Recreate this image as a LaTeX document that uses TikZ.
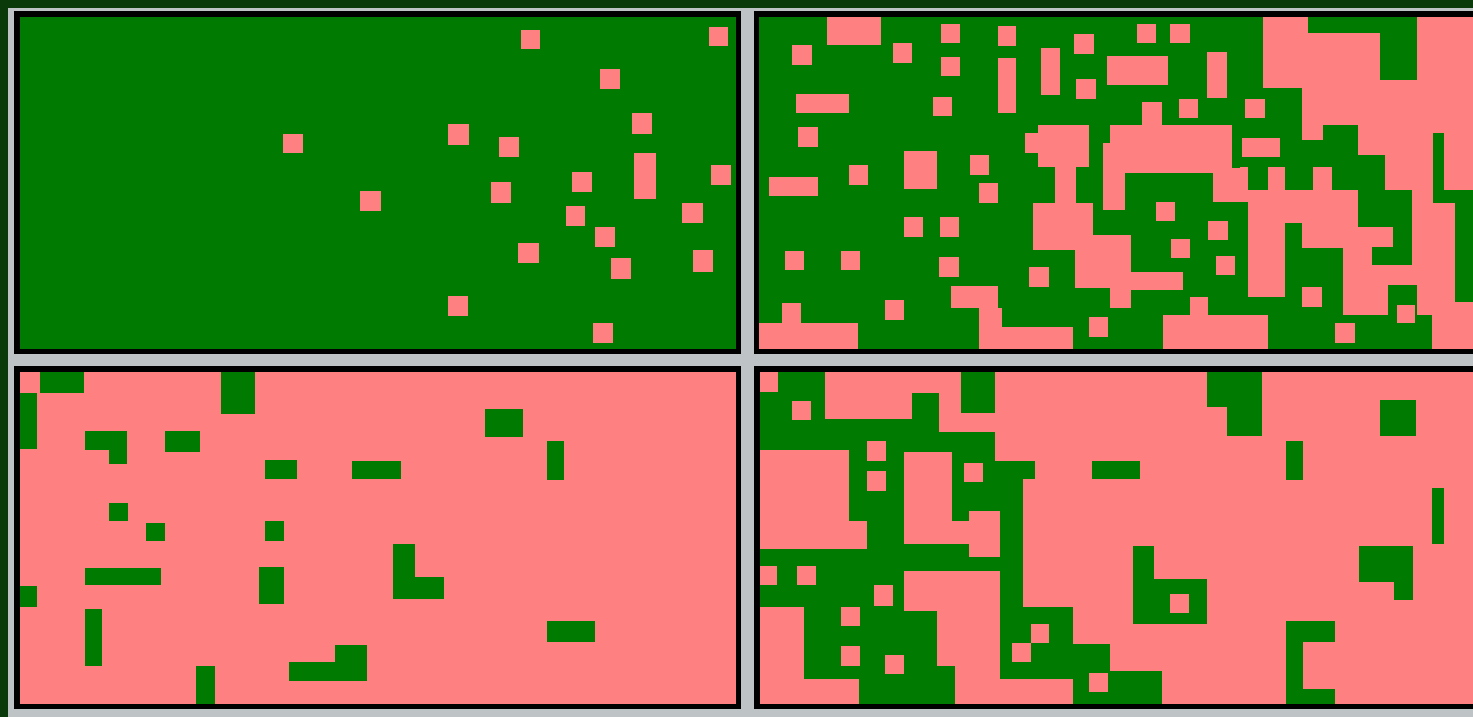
\documentclass[tikz,border=0pt]{standalone}
\definecolor{gc}{RGB}{0,122,0}
\definecolor{pc}{RGB}{255,128,128}
\definecolor{bgc}{RGB}{190,196,198}
\definecolor{dgc}{RGB}{10,58,10}
\newcommand\pkr[4]{\fill[pc] (#1,#2) rectangle (#3,#4);}
\newcommand\grr[4]{\fill[gc] (#1,#2) rectangle (#3,#4);}
\newcommand\blk[4]{\fill[black] (#1,#2) rectangle (#3,#4);}
\begin{document}
\begin{tikzpicture}[x=1pt,y=-1pt]
\useasboundingbox (0,0) rectangle (1473,717);
\clip (0,0) rectangle (1473,717);
% background
\fill[dgc] (0,0) rectangle (1473,717);
\fill[bgc] (8,8) rectangle (1473,717);
% panel frames
\blk{14}{11}{741}{354}
\blk{754}{11}{1480}{354}
\blk{14}{366}{741}{709}
\blk{754}{366}{1480}{709}
% ===== top-left panel =====
\grr{20}{17}{736}{349}
\pkr{521}{30}{540}{49}
\pkr{709}{27}{728}{46}
\pkr{600}{69}{620}{89}
\pkr{632}{113}{652}{134}
\pkr{283}{134}{303}{153}
\pkr{448}{124}{469}{145}
\pkr{499}{137}{519}{157}
\pkr{634}{153}{656}{199}
\pkr{711}{165}{731}{185}
\pkr{572}{172}{592}{192}
\pkr{491}{182}{511}{203}
\pkr{360}{191}{381}{211}
\pkr{682}{203}{703}{223}
\pkr{566}{206}{585}{226}
\pkr{595}{227}{615}{247}
\pkr{518}{243}{539}{263}
\pkr{693}{250}{713}{272}
\pkr{611}{258}{631}{279}
\pkr{448}{296}{468}{316}
\pkr{593}{323}{613}{343}
% ===== top-right panel =====
\grr{759}{17}{1480}{349}
\pkr{827}{17}{881}{45}
\pkr{792}{45}{812}{65}
\pkr{893}{43}{912}{63}
\pkr{941}{24}{960}{43}
\pkr{941}{57}{960}{76}
\pkr{998}{26}{1016}{46}
\pkr{998}{58}{1016}{113}
\pkr{796}{94}{849}{113}
\pkr{933}{97}{952}{116}
\pkr{798}{127}{818}{147}
\pkr{904}{151}{937}{189}
\pkr{849}{165}{868}{185}
\pkr{970}{155}{989}{175}
\pkr{979}{183}{998}{203}
\pkr{769}{177}{818}{196}
\pkr{904}{217}{923}{237}
\pkr{940}{217}{959}{237}
\pkr{785}{251}{804}{270}
\pkr{841}{251}{860}{270}
\pkr{939}{257}{959}{277}
\pkr{885}{300}{904}{320}
\pkr{759}{323}{858}{349}
\pkr{782}{303}{801}{323}
\pkr{951}{286}{998}{308}
\pkr{979}{308}{1002}{349}
\pkr{1000}{327}{1073}{349}
\pkr{1074}{34}{1094}{54}
\pkr{1041}{48}{1060}{95}
\pkr{1076}{79}{1096}{99}
\pkr{1137}{24}{1156}{43}
\pkr{1170}{24}{1190}{43}
\pkr{1107}{56}{1168}{85}
\pkr{1207}{52}{1227}{98}
\pkr{1179}{99}{1198}{118}
% blob A
\pkr{1038}{125}{1089}{167}
\pkr{1025}{133}{1038}{153}
\pkr{1055}{167}{1076}{203}
\pkr{1033}{203}{1093}{250}
\pkr{1075}{235}{1131}{288}
\pkr{1131}{272}{1183}{290}
\pkr{1110}{288}{1131}{308}
% blob B
\pkr{1110}{125}{1232}{173}
\pkr{1103}{143}{1125}{210}
\pkr{1142}{102}{1162}{125}
\pkr{1213}{168}{1245}{202}
\pkr{1156}{202}{1175}{221}
\pkr{1208}{221}{1228}{240}
\pkr{1171}{239}{1190}{258}
\pkr{1216}{256}{1235}{275}
\pkr{1029}{267}{1049}{287}
\pkr{1089}{317}{1108}{337}
\pkr{1163}{315}{1245}{349}
\pkr{1190}{297}{1208}{315}
% right part of top-right panel
\pkr{1240}{17}{1480}{349}
\grr{1240}{17}{1263}{88}
\grr{1308}{17}{1417}{33}
\grr{1380}{33}{1417}{80}
\grr{1240}{88}{1302}{167}
\grr{1302}{140}{1358}{167}
\grr{1323}{125}{1358}{140}
\grr{1358}{155}{1385}{227}
\grr{1385}{190}{1412}{227}
\grr{1393}{227}{1412}{247}
\grr{1372}{247}{1412}{265}
\grr{1248}{167}{1268}{190}
\grr{1285}{167}{1313}{190}
\grr{1332}{167}{1358}{190}
\grr{1240}{202}{1248}{300}
\grr{1285}{223}{1302}{297}
\grr{1302}{248}{1343}{297}
\grr{1240}{297}{1343}{349}
\grr{1343}{315}{1432}{349}
\grr{1388}{285}{1417}{315}
\grr{1433}{133}{1444}{190}
\grr{1433}{190}{1480}{203}
\grr{1455}{203}{1480}{302}
\pkr{1245}{99}{1265}{118}
\pkr{1242}{138}{1280}{157}
\pkr{1302}{287}{1322}{307}
\pkr{1335}{323}{1355}{343}
\pkr{1397}{305}{1415}{323}
\pkr{1240}{315}{1268}{349}
% ===== bottom-left panel =====
\pkr{20}{372}{736}{704}
\grr{40}{372}{84}{393}
\grr{20}{393}{37}{449}
\grr{221}{372}{255}{414}
\grr{85}{431}{127}{450}
\grr{109}{450}{127}{464}
\grr{165}{431}{200}{452}
\grr{265}{460}{297}{479}
\grr{352}{461}{401}{479}
\grr{109}{503}{128}{521}
\grr{146}{523}{165}{541}
\grr{265}{521}{284}{541}
\grr{85}{568}{161}{585}
\grr{259}{567}{284}{604}
\grr{20}{586}{37}{607}
\grr{85}{609}{102}{666}
\grr{196}{666}{215}{704}
\grr{289}{662}{367}{681}
\grr{335}{645}{367}{662}
\grr{485}{409}{523}{437}
\grr{547}{441}{564}{480}
\grr{393}{544}{415}{599}
\grr{415}{577}{444}{599}
\grr{547}{621}{595}{642}
% ===== bottom-right panel =====
\pkr{760}{372}{1480}{704}
\grr{760}{372}{1000}{704}
\pkr{760}{372}{778}{392}
\pkr{792}{401}{811}{420}
\pkr{825}{372}{912}{419}
\pkr{912}{372}{939}{393}
\pkr{939}{372}{961}{432}
\pkr{961}{413}{1000}{432}
\pkr{995}{372}{1000}{461}
\pkr{760}{450}{849}{521}
\pkr{760}{521}{867}{549}
\pkr{867}{441}{886}{461}
\pkr{867}{471}{886}{491}
\pkr{904}{452}{952}{544}
\pkr{952}{521}{969}{544}
\pkr{969}{511}{1000}{557}
\pkr{964}{463}{983}{482}
\pkr{760}{566}{777}{585}
\pkr{797}{566}{816}{585}
\pkr{874}{585}{893}{606}
\pkr{904}{571}{1000}{611}
\pkr{937}{611}{1000}{666}
\pkr{955}{666}{1000}{704}
\pkr{841}{607}{860}{626}
\pkr{841}{646}{860}{666}
\pkr{885}{655}{904}{674}
\pkr{760}{607}{804}{704}
\pkr{804}{679}{859}{704}
\grr{1207}{372}{1262}{407}
\grr{1227}{407}{1262}{436}
\grr{1000}{461}{1035}{479}
\grr{1000}{479}{1023}{607}
\grr{1000}{607}{1073}{644}
\grr{1000}{644}{1110}{679}
\grr{1073}{671}{1162}{704}
\pkr{1031}{624}{1049}{643}
\pkr{1012}{643}{1031}{662}
\pkr{1089}{673}{1108}{692}
\pkr{1000}{681}{1073}{704}
\grr{1092}{461}{1140}{479}
\grr{1133}{546}{1154}{624}
\grr{1154}{579}{1207}{624}
\pkr{1170}{594}{1189}{613}
\grr{1380}{400}{1416}{436}
\grr{1286}{441}{1303}{480}
\grr{1432}{488}{1444}{544}
\grr{1359}{546}{1413}{582}
\grr{1394}{582}{1413}{600}
\grr{1286}{621}{1335}{642}
\grr{1286}{642}{1303}{689}
\grr{1286}{689}{1335}{704}
\end{tikzpicture}
\end{document}
